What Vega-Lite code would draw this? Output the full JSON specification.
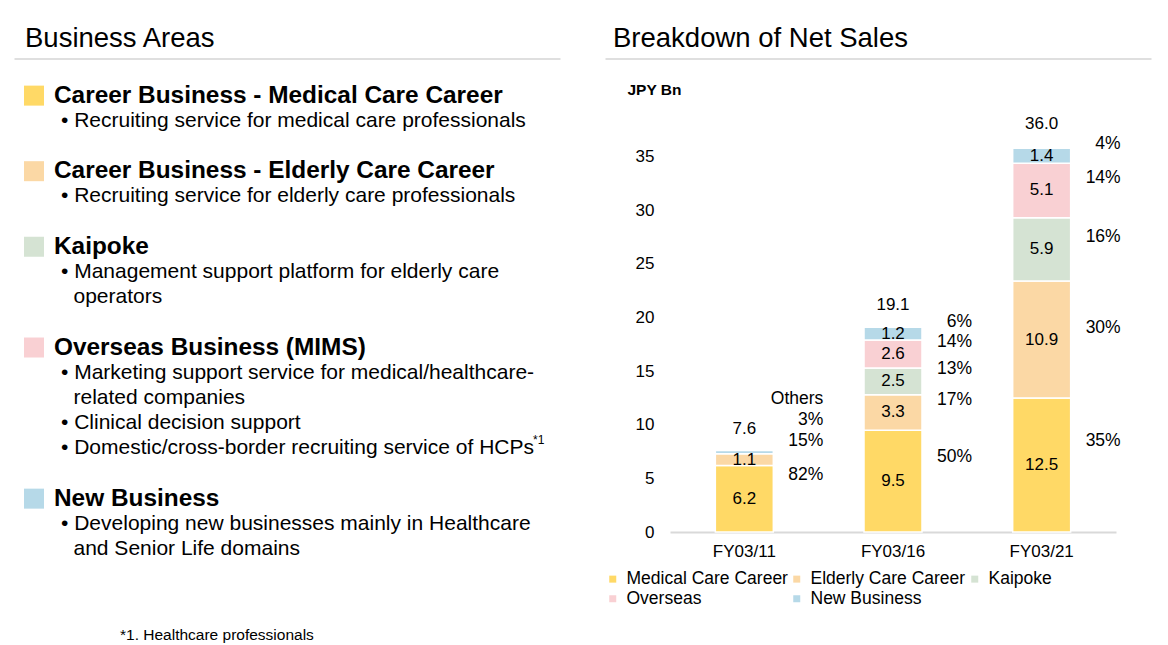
{
  "$schema": "https://vega.github.io/schema/vega-lite/v6.json",
  "padding": {"left": 14, "top": 25, "right": 0, "bottom": 0},
  "config": {
    "font": "Liberation Sans",
    "view": {"stroke": null},
    "text": {"color": "#000000"},
    "title": {"color": "#000000", "fontWeight": "normal", "fontSize": 27.5, "anchor": "start", "offset": 6},
    "axis": {"labelColor": "#000000", "titleColor": "#000000"},
    "legend": {"labelColor": "#000000"}
  },
  "datasets": {
    "areas": [
      {"line": 0, "level": 1, "kind": "heading", "segment": "Medical Care Career", "text": "Career Business - Medical Care Career"},
      {"line": 1, "level": 2, "kind": "item", "text": "• Recruiting service for medical care professionals"},
      {"line": 3, "level": 1, "kind": "heading", "segment": "Elderly Care Career", "text": "Career Business - Elderly Care Career"},
      {"line": 4, "level": 2, "kind": "item", "text": "• Recruiting service for elderly care professionals"},
      {"line": 6, "level": 1, "kind": "heading", "segment": "Kaipoke", "text": "Kaipoke"},
      {"line": 7, "level": 2, "kind": "item", "text": "• Management support platform for elderly care"},
      {"line": 8, "level": 3, "kind": "item", "text": "operators"},
      {"line": 10, "level": 1, "kind": "heading", "segment": "Overseas", "text": "Overseas Business (MIMS)"},
      {"line": 11, "level": 2, "kind": "item", "text": "• Marketing support service for medical/healthcare-"},
      {"line": 12, "level": 3, "kind": "item", "text": "related companies"},
      {"line": 13, "level": 2, "kind": "item", "text": "• Clinical decision support"},
      {"line": 14, "level": 2, "kind": "item", "text": "• Domestic/cross-border recruiting service of HCPs", "sup": "*1"},
      {"line": 16, "level": 1, "kind": "heading", "segment": "New Business", "text": "New Business"},
      {"line": 17, "level": 2, "kind": "item", "text": "• Developing new businesses mainly in Healthcare"},
      {"line": 18, "level": 3, "kind": "item", "text": "and Senior Life domains"},
      {"line": 21.4, "level": 4, "kind": "footnote", "text": "*1. Healthcare professionals"}
    ],
    "sales": [
      {"year": "FY03/11", "segment": "Medical Care Career", "order": 1, "value": 6.2, "pct": "82%"},
      {"year": "FY03/11", "segment": "Elderly Care Career", "order": 2, "value": 1.1, "pct": "15%"},
      {"year": "FY03/11", "segment": "New Business", "order": 5, "value": 0.3, "pct": "3%"},
      {"year": "FY03/16", "segment": "Medical Care Career", "order": 1, "value": 9.5, "pct": "50%"},
      {"year": "FY03/16", "segment": "Elderly Care Career", "order": 2, "value": 3.3, "pct": "17%"},
      {"year": "FY03/16", "segment": "Kaipoke", "order": 3, "value": 2.5, "pct": "13%"},
      {"year": "FY03/16", "segment": "Overseas", "order": 4, "value": 2.6, "pct": "14%"},
      {"year": "FY03/16", "segment": "New Business", "order": 5, "value": 1.2, "pct": "6%"},
      {"year": "FY03/21", "segment": "Medical Care Career", "order": 1, "value": 12.5, "pct": "35%"},
      {"year": "FY03/21", "segment": "Elderly Care Career", "order": 2, "value": 10.9, "pct": "30%"},
      {"year": "FY03/21", "segment": "Kaipoke", "order": 3, "value": 5.9, "pct": "16%"},
      {"year": "FY03/21", "segment": "Overseas", "order": 4, "value": 5.1, "pct": "14%"},
      {"year": "FY03/21", "segment": "New Business", "order": 5, "value": 1.4, "pct": "4%"}
    ],
    "totals": [
      {"year": "FY03/11", "total": 7.6},
      {"year": "FY03/16", "total": 19.1},
      {"year": "FY03/21", "total": 36.0}
    ],
    "notes": [
      {"year": "FY03/11", "total": 7.6, "note": "Others\n3%\n15%"}
    ]
  },
  "concat": [
    {
      "width": 546,
      "height": 466,
      "title": {"text": "Business Areas", "dx": 11},
      "layer": [
        {
          "data": {"values": [{"part": "underline"}]},
          "mark": {"type": "text", "text": ""},
          "encoding": {
            "x": {"datum": 0, "type": "quantitative", "scale": {"domain": [0, 1], "range": [0, 546]},
                  "axis": {"orient": "top", "offset": 87.5, "domainColor": "#bfbfbf", "domainWidth": 1.2, "ticks": false, "labels": false, "grid": false, "title": null}}
          }
        },
        {
          "data": {"name": "areas"},
          "layer": [
            {
              "transform": [{"filter": "datum.kind === 'heading'"}],
              "mark": {"type": "point", "shape": "square", "filled": true, "size": 400, "opacity": 1, "strokeWidth": 0},
              "encoding": {
                "x": {"datum": 0, "type": "quantitative", "scale": {"domain": [0, 1, 2, 3, 4], "range": [20, 40, 47, 59.5, 106], "zero": false, "nice": false}, "axis": null},
                "y": {"field": "line", "type": "quantitative", "scale": {"domain": [2, 20.5], "reverse": true, "zero": false, "nice": false}, "axis": null},
                "color": {"field": "segment", "type": "nominal",
                          "scale": {"domain": ["Medical Care Career", "Elderly Care Career", "Kaipoke", "Overseas", "New Business"],
                                    "range": ["#FFD966", "#FBD8A5", "#D5E3D3", "#F9D0D3", "#B6D9E8"]},
                          "legend": null}
              }
            },
            {
              "transform": [{"filter": "datum.kind === 'heading'"}],
              "mark": {"type": "text", "align": "left", "baseline": "middle", "fontSize": 24.4, "fontWeight": "bold"},
              "encoding": {
                "x": {"field": "level", "type": "quantitative", "axis": null},
                "y": {"field": "line", "type": "quantitative", "axis": null},
                "text": {"field": "text", "type": "nominal"}
              }
            },
            {
              "transform": [{"filter": "datum.kind === 'item'"}],
              "mark": {"type": "text", "align": "left", "baseline": "middle", "fontSize": 21},
              "encoding": {
                "x": {"field": "level", "type": "quantitative", "axis": null},
                "y": {"field": "line", "type": "quantitative", "axis": null},
                "text": {"field": "text", "type": "nominal"}
              }
            },
            {
              "transform": [{"filter": "isValid(datum.sup)"}],
              "mark": {"type": "text", "align": "left", "baseline": "middle", "fontSize": 12, "dx": 472, "dy": -8},
              "encoding": {
                "x": {"field": "level", "type": "quantitative", "axis": null},
                "y": {"field": "line", "type": "quantitative", "axis": null},
                "text": {"field": "sup", "type": "nominal"}
              }
            },
            {
              "transform": [{"filter": "datum.kind === 'footnote'"}],
              "mark": {"type": "text", "align": "left", "baseline": "middle", "fontSize": 15.5},
              "encoding": {
                "x": {"field": "level", "type": "quantitative", "axis": null},
                "y": {"field": "line", "type": "quantitative", "axis": null},
                "text": {"field": "text", "type": "nominal"}
              }
            }
          ]
        }
      ],
      "resolve": {"scale": {"x": "independent"}, "axis": {"x": "independent"}}
    },
    {
      "width": 446,
      "height": 386,
      "title": {"text": "Breakdown of Net Sales", "dx": 9},
      "layer": [
        {
          "data": {"values": [{"part": "underline"}]},
          "mark": {"type": "text", "text": ""},
          "encoding": {
            "x": {"datum": 0, "type": "quantitative", "scale": {"domain": [0, 1], "range": [-65, 481]},
                  "axis": {"orient": "top", "offset": 87.5, "domainColor": "#bfbfbf", "domainWidth": 1.2, "ticks": false, "labels": false, "grid": false, "title": null}}
          }
        },
        {
          "layer": [
            {
              "data": {"name": "sales"},
              "mark": {"type": "bar", "stroke": "#ffffff", "strokeWidth": 1.5},
              "encoding": {
                "x": {"field": "year", "type": "nominal", "scale": {"paddingInner": 0.61, "paddingOuter": 0.305},
                      "axis": {"orient": "bottom", "title": null, "labelAngle": 0, "labelFontSize": 17, "labelPadding": 11, "ticks": false, "grid": false, "domainColor": "#d9d9d9", "domainWidth": 2}},
                "y": {"field": "value", "type": "quantitative", "stack": "zero", "scale": {"domain": [0, 36], "nice": false},
                      "axis": {"orient": "left", "values": [0, 5, 10, 15, 20, 25, 30, 35], "labelFontSize": 17, "labelPadding": 16, "ticks": false, "domain": false, "grid": false,
                               "title": "JPY Bn", "titleAngle": 0, "titleAlign": "left", "titleBaseline": "middle", "titleX": -43, "titleY": -56.5, "titleFontSize": 15.5, "titleFontWeight": "bold"}},
                "color": {"field": "segment", "type": "nominal",
                          "scale": {"domain": ["Medical Care Career", "Elderly Care Career", "Kaipoke", "Overseas", "New Business"],
                                    "range": ["#FFD966", "#FBD8A5", "#D5E3D3", "#F9D0D3", "#B6D9E8"]},
                          "legend": {"orient": "none", "legendX": -66, "legendY": 424, "direction": "horizontal", "columns": 3, "title": null,
                                     "symbolType": "square", "symbolSize": 49, "symbolStrokeWidth": 0, "labelFontSize": 17.5, "labelOffset": 5, "labelLimit": 300,
                                     "columnPadding": 0, "rowPadding": 1, "padding": 0}},
                "order": {"field": "order", "type": "quantitative"}
              }
            },
            {
              "data": {"name": "sales"},
              "mark": {"type": "text", "fontSize": 17, "baseline": "middle"},
              "encoding": {
                "x": {"field": "year", "type": "nominal", "title": null},
                "y": {"field": "value", "type": "quantitative", "stack": "zero", "bandPosition": 0.5, "title": "JPY Bn"},
                "detail": {"field": "segment", "type": "nominal"},
                "order": {"field": "order", "type": "quantitative"},
                "text": {"field": "value", "type": "quantitative", "format": ".1f"},
                "opacity": {"condition": {"test": "datum.value < 0.5", "value": 0}, "value": 1}
              }
            },
            {
              "data": {"name": "sales"},
              "transform": [{"filter": "datum.segment === 'Medical Care Career'"}],
              "mark": {"type": "text", "fontSize": 17.5, "baseline": "middle", "align": "right", "dx": 79, "dy": -24},
              "encoding": {
                "x": {"field": "year", "type": "nominal", "title": null},
                "y": {"field": "value", "type": "quantitative", "stack": "zero", "bandPosition": 0.5, "title": "JPY Bn"},
                "detail": {"field": "segment", "type": "nominal"},
                "order": {"field": "order", "type": "quantitative"},
                "text": {"field": "pct", "type": "nominal"}
              }
            },
            {
              "data": {"name": "sales"},
              "transform": [{"filter": "datum.year !== 'FY03/11'"}],
              "mark": {"type": "text", "fontSize": 17.5, "baseline": "middle", "align": "right", "dx": 79, "dy": -12},
              "encoding": {
                "x": {"field": "year", "type": "nominal", "title": null},
                "y": {"field": "value", "type": "quantitative", "stack": "zero", "bandPosition": 0.5, "title": "JPY Bn"},
                "detail": {"field": "segment", "type": "nominal"},
                "order": {"field": "order", "type": "quantitative"},
                "text": {"field": "pct", "type": "nominal"},
                "opacity": {"condition": {"test": "datum.segment === 'Medical Care Career'", "value": 0}, "value": 1}
              }
            },
            {
              "data": {"name": "totals"},
              "mark": {"type": "text", "fontSize": 17, "baseline": "middle", "dy": -22},
              "encoding": {
                "x": {"field": "year", "type": "nominal", "title": null},
                "y": {"field": "total", "type": "quantitative", "title": "JPY Bn"},
                "text": {"field": "total", "type": "quantitative", "format": ".1f"}
              }
            },
            {
              "data": {"name": "notes"},
              "mark": {"type": "text", "fontSize": 17.5, "baseline": "middle", "align": "right", "dx": 79, "dy": -52, "lineBreak": "\n", "lineHeight": 21},
              "encoding": {
                "x": {"field": "year", "type": "nominal", "title": null},
                "y": {"field": "total", "type": "quantitative", "title": "JPY Bn"},
                "text": {"field": "note", "type": "nominal"}
              }
            }
          ]
        }
      ],
      "resolve": {"scale": {"x": "independent"}, "axis": {"x": "independent"}}
    }
  ],
  "columns": 2,
  "align": "none",
  "spacing": 44,
  "bounds": "full",
  "resolve": {"scale": {"color": "independent"}, "legend": {"color": "independent"}}
}
